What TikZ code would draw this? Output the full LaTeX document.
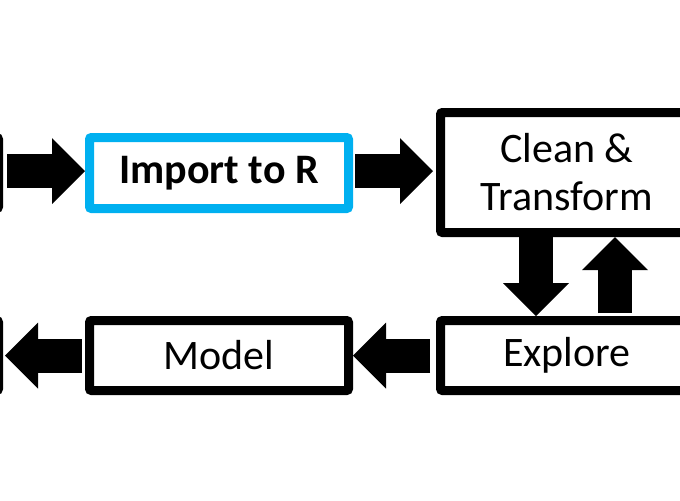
\documentclass[tikz,border=0pt]{standalone}
\usepackage{fontspec}
\setmainfont{Carlito}
\usetikzlibrary{arrows.meta}
\definecolor{rblue}{HTML}{00B0F0}
\tikzset{
  box/.style={draw=black, line width=4.5pt, rounded corners=1pt, fill=white,
    minimum width=129.5pt, minimum height=35.5pt, inner sep=0pt,
    align=center, font=\fontsize{21pt}{24pt}\selectfont},
  bigbox/.style={box, minimum width=126.5pt, minimum height=60pt},
  flow/.style={line width=17pt,
    -{Triangle[width=33pt, length=16.5pt, line width=0pt]}}
}
\begin{document}
\begin{tikzpicture}[x=0.5pt, y=-0.5pt]
  \useasboundingbox (0,0) rectangle (680,500);
  \clip (0,0) rectangle (680,500);

  % top row
  \node[box] (load) at (-131,173) {};
  \node[box, draw=rblue] (import) at (219,173) {\bfseries Import to R};
  \node[bigbox] (clean) at (567,172.5) {Clean \&\\Transform};

  % bottom row
  \node[box, minimum width=126.5pt, minimum height=35pt] (explore) at (567,355.5) {Explore};
  \node[box, minimum height=35pt] (model) at (219,355.5) {Model};
  \node[box, minimum height=35pt] (report) at (-131,355.5) {};

  \draw[flow, shorten <=2pt] ([yshift=1pt]load.east) -- ([yshift=1pt]import.west);
  \draw[flow, shorten <=1pt, shorten >=1.5pt] ([yshift=1pt]import.east) -- ([yshift=1pt]import.east -| clean.west);
  \draw[flow] ([xshift=-15.5pt]clean.south) -- ([xshift=-15.5pt]explore.north);
  \draw[flow, shorten <=1.5pt] ([xshift=24pt]explore.north) -- ([xshift=24pt]clean.south);
  \draw[flow, shorten <=3pt] (explore.west) -- (model.east);
  \draw[flow, shorten <=1.5pt, shorten >=1pt] (model.west) -- (report.east);
\end{tikzpicture}
\end{document}
